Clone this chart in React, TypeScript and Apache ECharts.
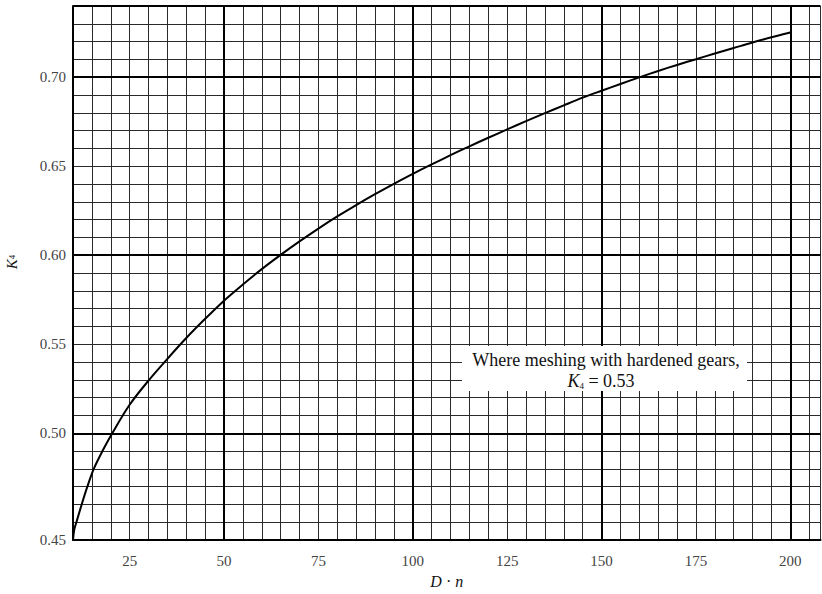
import React, { useEffect, useRef } from "react";
import * as echarts from "echarts";

// D·n values and K4 values
const dnValues = [10, 10.35, 10.9, 12.3, 13.8, 15.5, 17.8, 20.4, 25, 30, 35, 40, 45, 50, 55, 60, 65, 70, 75, 80, 85, 90, 95, 100, 105, 110, 115, 120, 125, 130, 135, 140, 145, 150, 155, 160, 165, 170, 175, 180, 185, 190, 195, 200];
const k4Values = [0.44, 0.446, 0.45, 0.46, 0.47, 0.48, 0.49, 0.5, 0.516, 0.5296, 0.5418, 0.5535, 0.5643, 0.5745, 0.5836, 0.5922, 0.6002, 0.6078, 0.615, 0.6218, 0.6282, 0.6343, 0.6401, 0.6457, 0.651, 0.6562, 0.6612, 0.666, 0.6707, 0.6753, 0.6798, 0.6842, 0.6885, 0.6924, 0.6962, 0.6999, 0.7035, 0.7069, 0.7101, 0.7133, 0.7164, 0.7195, 0.7224, 0.7251];

const xTickLabels = [25, 50, 75, 100, 125, 150, 175, 200];
const yTickValues = [0.44, 0.5, 0.55, 0.6, 0.65, 0.7];
const yTickLabels = ["0.45", "0.50", "0.55", "0.60", "0.65", "0.70"];
const majorX = [50, 100, 150, 200];
const majorY = [0.5, 0.6, 0.7, 0.74];

const noteLine1 = "Where meshing with hardened gears,";
const noteValue = "0.53";

export default function App() {
  const ref = useRef<HTMLDivElement>(null);
  useEffect(() => {
    if (!ref.current) return;
    const chart = echarts.init(ref.current, null, { renderer: "svg" });
    const serif = "'Liberation Serif', 'DejaVu Serif', serif";
    const data = dnValues.map((x, i) => [x, k4Values[i]]);
    chart.setOption({
      animation: false,
      backgroundColor: "#fff",
      grid: { left: 73, top: 6, right: 1.5, bottom: 42.3, containLabel: false },
      xAxis: {
        type: "value",
        min: 10,
        max: 208,
        interval: 5,
        name: "{i|D} · {i|n}",
        nameLocation: "middle",
        nameGap: 30,
        nameTextStyle: {
          fontFamily: serif,
          fontSize: 16,
          color: "#111",
          rich: { i: { fontStyle: "italic", fontFamily: serif, fontSize: 16, color: "#111" } },
        },
        axisLine: { show: true, lineStyle: { color: "#000", width: 2 } },
        axisTick: { show: false },
        axisLabel: {
          margin: 13,
          fontFamily: serif,
          fontSize: 15,
          color: "#444",
          showMinLabel: false,
          showMaxLabel: false,
          formatter: (v: number) => (xTickLabels.includes(Math.round(v)) && Math.abs(v - Math.round(v)) < 1e-6 ? String(Math.round(v)) : ""),
        },
        splitLine: { show: true, lineStyle: { color: "#2a2a2a", width: 1 } },
      },
      yAxis: {
        type: "value",
        min: 0.44,
        max: 0.74,
        interval: 0.01,
        axisLine: { show: true, lineStyle: { color: "#000", width: 2 } },
        axisTick: { show: false },
        axisLabel: {
          margin: 7,
          fontFamily: serif,
          fontSize: 15,
          color: "#444",
          formatter: (v: number) => {
            const idx = yTickValues.findIndex((t) => Math.abs(t - v) < 1e-6);
            return idx >= 0 ? yTickLabels[idx] : "";
          },
        },
        splitLine: { show: true, lineStyle: { color: "#2a2a2a", width: 1 } },
      },
      graphic: [
        {
          type: "rect",
          shape: { x: 462, y: 346, width: 285, height: 45 },
          style: { fill: "#fff" },
          z: 100,
        },
        {
          type: "text",
          x: 606,
          y: 360,
          z: 101,
          style: {
            text: noteLine1,
            fontFamily: serif,
            fontSize: 18,
            fill: "#111",
            align: "center",
            verticalAlign: "middle",
          },
        },
        {
          type: "text",
          x: 601,
          y: 381,
          z: 101,
          style: {
            text: "{k|K}{s|4} = " + noteValue,
            fontFamily: serif,
            fontSize: 18,
            fill: "#111",
            align: "center",
            verticalAlign: "middle",
            rich: {
              k: { fontStyle: "italic", fontFamily: serif, fontSize: 18, fill: "#111" },
              s: { fontFamily: serif, fontSize: 9, fill: "#111", verticalAlign: "bottom" },
            },
          },
        },
        {
          type: "text",
          x: 12,
          y: 262,
          rotation: Math.PI / 2,
          style: {
            text: "{k|K}{s|4}",
            fontFamily: serif,
            fontSize: 15,
            fill: "#111",
            align: "center",
            verticalAlign: "middle",
            rich: {
              k: { fontStyle: "italic", fontFamily: serif, fontSize: 15, fill: "#111" },
              s: { fontFamily: serif, fontSize: 9, fill: "#111" },
            },
          },
        },
      ],
      series: [
        {
          type: "line",
          data,
          smooth: 0.35,
          showSymbol: false,
          lineStyle: { color: "#000", width: 2 },
          z: 5,
          markLine: {
            silent: true,
            symbol: "none",
            label: { show: false },
            lineStyle: { color: "#000", width: 2, type: "solid" },
            data: [
              ...majorX.map((x) => ({ xAxis: x })),
              ...majorY.map((y) => ({ yAxis: y })),
            ],
          },
        },
      ],
    });
    return () => chart.dispose();
  }, []);
  return <div ref={ref} style={{ position: "fixed", left: 0, top: 0, width: 822, height: 594 }} />;
}
